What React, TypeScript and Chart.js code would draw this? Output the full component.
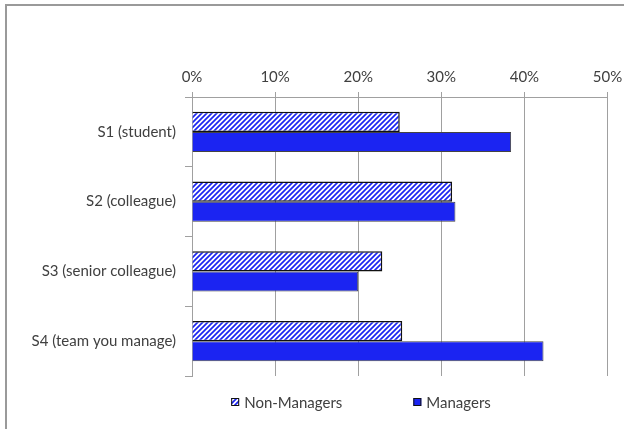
import React, { useEffect, useRef } from "react";
import { Chart, registerables } from "chart.js";

Chart.register(...registerables);

const categories = ["S1 (student)", "S2 (colleague)", "S3 (senior colleague)", "S4 (team you manage)"];
const nonManagers = [25.0, 31.3, 22.9, 25.3];
const managers = [38.4, 31.7, 20.0, 42.3];
const seriesLabels = ["Non-Managers", "Managers"];
const xTicksMax = 50;
const xTickStep = 10;

const BLUE = "#1b24f2";
const GRID = "#a0a0a0";
const TEXT = "#404040";
const FONT = "Lato, 'Open Sans', sans-serif";
const FONT_SIZE = 15;

function makeHatch(): CanvasPattern | string {
  const n = 5;
  const c = document.createElement("canvas");
  c.width = n;
  c.height = n;
  const g = c.getContext("2d");
  if (!g) return BLUE;
  g.fillStyle = "#ffffff";
  g.fillRect(0, 0, n, n);
  g.strokeStyle = BLUE;
  g.lineWidth = 1.7;
  g.beginPath();
  g.moveTo(0, n);
  g.lineTo(n, 0);
  g.moveTo(-n, n);
  g.lineTo(n, -n);
  g.moveTo(0, 2 * n);
  g.lineTo(2 * n, 0);
  g.stroke();
  const p = g.createPattern(c, "repeat");
  return p || BLUE;
}

const legendPlugin = {
  id: "customLegend",
  afterDraw(chart: any) {
    const ctx = chart.ctx;
    ctx.save();
    ctx.font = `${FONT_SIZE}px ${FONT}`;
    const box = 8;
    const gap = 5;
    const spacing = 71;
    const items = chart.data.datasets.map((ds: any) => ({
      label: ds.label,
      fill: ds.backgroundColor,
      w: ctx.measureText(ds.label).width,
    }));
    let total = 0;
    items.forEach((it: any, i: number) => {
      total += box + gap + it.w + (i < items.length - 1 ? spacing : 0);
    });
    let x = 361 - total / 2;
    const cy = chart.chartArea.bottom + 26;
    items.forEach((it: any) => {
      ctx.fillStyle = it.fill;
      ctx.fillRect(x, cy - box / 2, box, box);
      ctx.strokeStyle = "#111";
      ctx.lineWidth = 1;
      ctx.strokeRect(x + 0.5, cy - box / 2 + 0.5, box - 1, box - 1);
      ctx.fillStyle = TEXT;
      ctx.textBaseline = "middle";
      ctx.textAlign = "left";
      ctx.fillText(it.label, x + box + gap, cy + 1);
      x += box + gap + it.w + spacing;
    });
    ctx.restore();
  },
};

export default function App() {
  const ref = useRef<HTMLCanvasElement | null>(null);

  useEffect(() => {
    if (!ref.current) return;
    const hatch = makeHatch();
    const chart = new Chart(ref.current, {
      type: "bar",
      data: {
        labels: categories,
        datasets: [
          {
            label: seriesLabels[0],
            data: nonManagers,
            backgroundColor: hatch as any,
            borderColor: "#111111",
            borderWidth: 1.5,
            categoryPercentage: 0.575,
            barPercentage: 1.0,
          },
          {
            label: seriesLabels[1],
            data: managers,
            backgroundColor: BLUE,
            borderColor: "#444444",
            borderWidth: 1,
            categoryPercentage: 0.575,
            barPercentage: 1.0,
          },
        ],
      },
      options: {
        indexAxis: "y",
        responsive: false,
        animation: false,
        layout: { padding: { left: 0, top: 0, right: 16.5, bottom: 53 } },
        plugins: {
          legend: { display: false },
          tooltip: { enabled: false },
        },
        scales: {
          x: {
            position: "top",
            min: 0,
            max: xTicksMax,
            ticks: {
              stepSize: xTickStep,
              padding: 6,
              color: TEXT,
              font: { family: FONT, size: FONT_SIZE },
              callback: (v: any) => `${v}%`,
            },
            grid: { color: GRID, tickLength: 5, lineWidth: 1 },
            border: { display: true, color: GRID },
            afterFit: (s: any) => {
              s.height = 97;
              s.paddingRight = 0;
              s.paddingLeft = 0;
            },
          },
          y: {
            ticks: {
              padding: 9,
              color: TEXT,
              font: { family: FONT, size: FONT_SIZE },
            },
            grid: { drawOnChartArea: false, color: GRID, tickLength: 7, offset: true },
            border: { display: true, color: GRID },
            afterFit: (s: any) => {
              s.width = 192;
            },
          },
        },
      },
      plugins: [legendPlugin],
    } as any);
    return () => chart.destroy();
  }, []);

  return (
    <div style={{ position: "fixed", left: 0, top: 0, width: 624, height: 429, background: "#fff", overflow: "hidden" }}>
      <div
        style={{
          position: "absolute",
          left: 5,
          top: 4,
          width: 700,
          height: 500,
          border: "2px solid #9a9a9a",
          boxSizing: "border-box",
        }}
      />
      <canvas ref={ref} width={624} height={429} style={{ position: "absolute", left: 0, top: 0 }} />
    </div>
  );
}
